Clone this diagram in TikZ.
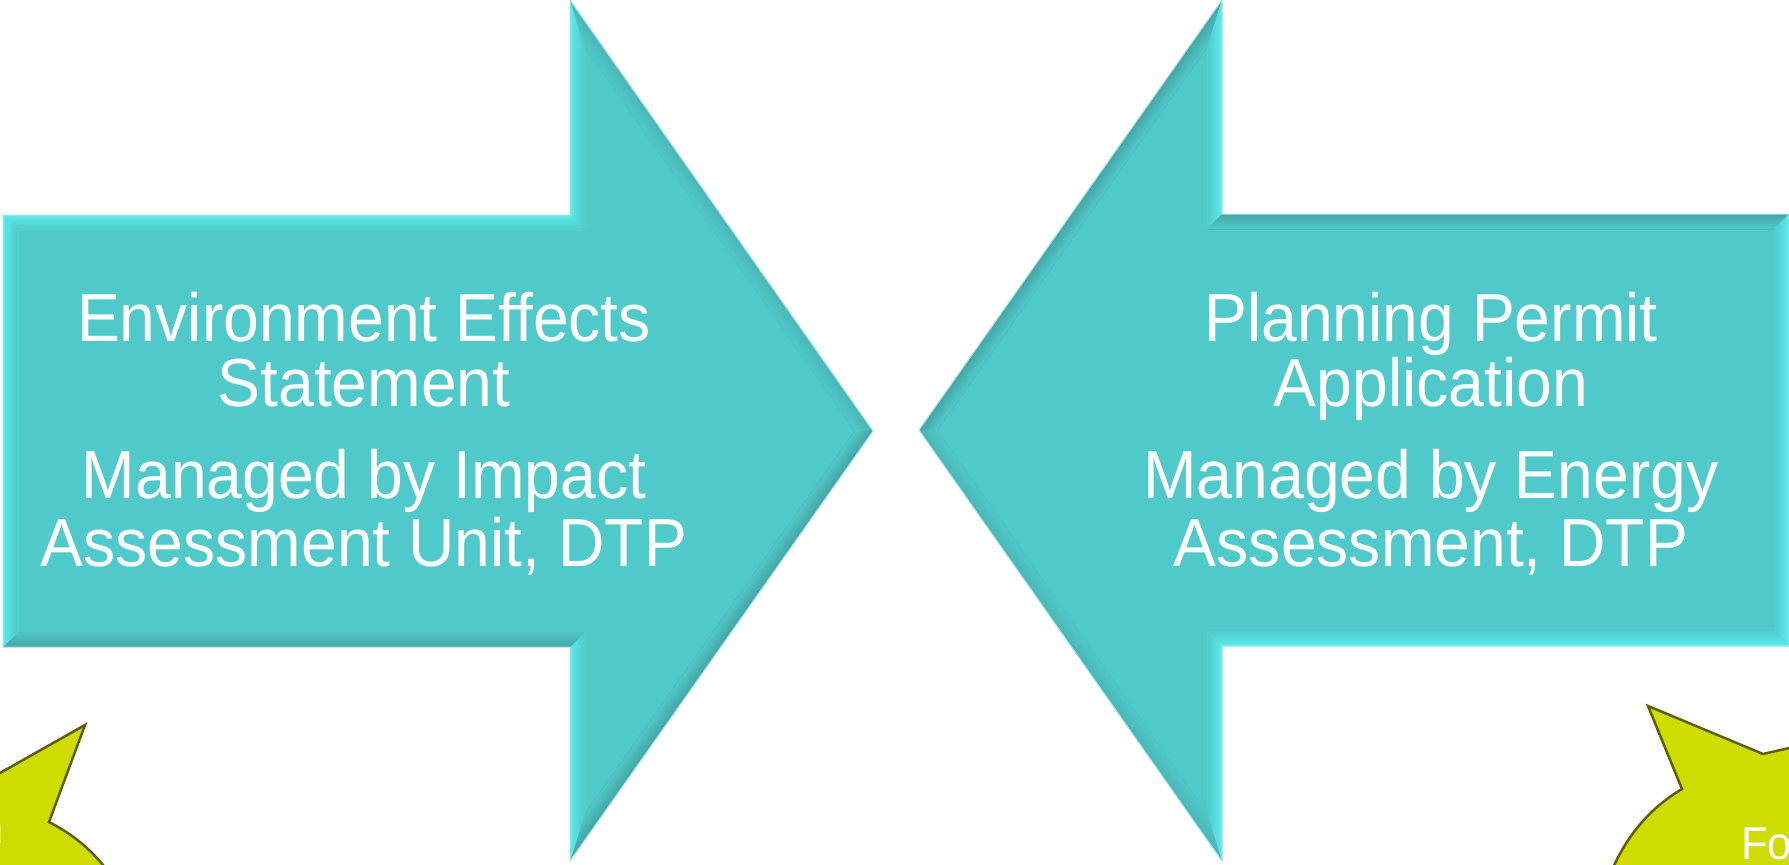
\documentclass[tikz,border=0pt]{standalone}
\usepackage{fontspec}
\setmainfont{Liberation Sans}
\newfontfamily\narrowsans[FakeStretch=0.945]{Liberation Sans}
\definecolor{tmain}{HTML}{4FC9C9}
\definecolor{tlight}{HTML}{5CEAEA}
\definecolor{tdark}{HTML}{47A6A8}
\definecolor{tmid}{HTML}{4BB6B7}
\definecolor{tedge}{HTML}{A8E4E4}
\definecolor{yfill}{HTML}{CFDC00}
\definecolor{yline}{HTML}{5E6000}
\newcommand\bevelarrow{%
  \fill[tmain] (3,215) -- (570,215) -- (570,0) -- (873,431) -- (570,861) -- (570,647) -- (3,647) -- cycle;
  \foreach \i in {0,...,6}{%
    \pgfmathsetmacro\wa{2*\i}%
    \pgfmathsetmacro\wb{15}%
    \pgfmathtruncatemacro\pc{100-100*\i/7}%
    \coordinate (a1) at ({3+\wa},{215+\wa});
    \coordinate (b1) at ({570+\wa},{215+\wa});
    \coordinate (c1) at ({570+\wa},{3.162*\wa});
    \coordinate (d1) at ({873-1.2227*\wa},431);
    \coordinate (e1) at ({570+\wa},{861-3.162*\wa});
    \coordinate (f1) at ({570+\wa},{647-\wa});
    \coordinate (g1) at ({3+\wa},{647-\wa});
    \coordinate (a2) at ({3+\wb},{215+\wb});
    \coordinate (b2) at ({570+\wb},{215+\wb});
    \coordinate (c2) at ({570+\wb},{3.162*\wb});
    \coordinate (d2) at ({873-1.2227*\wb},431);
    \coordinate (e2) at ({570+\wb},{861-3.162*\wb});
    \coordinate (f2) at ({570+\wb},{647-\wb});
    \coordinate (g2) at ({3+\wb},{647-\wb});
    \fill[tlight!\pc!tmain] (a1) -- (b1) -- (b2) -- (a2) -- cycle;
    \fill[tlight!\pc!tmain] (b1) -- (c1) -- (c2) -- (b2) -- cycle;
    \fill[tmid!\pc!tmain] (c1) -- (d1) -- (d2) -- (c2) -- cycle;
    \fill[tdark!\pc!tmain] (d1) -- (e1) -- (e2) -- (d2) -- cycle;
    \fill[tlight!\pc!tmain] (e1) -- (f1) -- (f2) -- (e2) -- cycle;
    \fill[tdark!\pc!tmain] (f1) -- (g1) -- (g2) -- (f2) -- cycle;
    \fill[tlight!\pc!tmain] (g1) -- (a1) -- (a2) -- (g2) -- cycle;
  }
  \draw[tedge, line width=1] (3,215) -- (570,215) -- (570,0) -- (873,431) -- (570,861) -- (570,647) -- (3,647) -- cycle;
}
\begin{document}
\begin{tikzpicture}[x=1pt,y=-1pt,
  arrtxt/.style={text=white, font=\narrowsans\fontsize{68}{70}\selectfont, anchor=base, inner sep=0pt},
  smalltxt/.style={text=white, font=\narrowsans\fontsize{46}{50}\selectfont, inner sep=0pt},
  burst/.style={fill=yfill, draw=yline, line width=2.5pt, line join=miter}]
\useasboundingbox (0,0) rectangle (1789,865);
\fill[white] (0,0) rectangle (1789,865);
\clip (0,0) rectangle (1789,865);

% left arrow
\begin{scope}
  \bevelarrow
\end{scope}
% right arrow (point reflection of the left one)
\begin{scope}[rotate around={180:(896,430.5)}]
  \bevelarrow
\end{scope}

% yellow bursts
\path[burst] (-20,784.3) -- (85,725) -- (49,822) .. controls (72,834) and (94,850) .. (114,880) -- (-20,880) -- cycle;
\path[burst] (1800,745.5) -- (1763,754) -- (1648,706) -- (1682,789) .. controls (1655,805) and (1626,832) .. (1608,880) -- (1800,880) -- cycle;

% texts
\node[arrtxt] (l1) at (364,341) {Environment Effects};
\node[arrtxt] (l2) at (364,406) {Statement};
\node[arrtxt] (l3) at (364,498) {Managed by Impact};
\node[arrtxt] (l4) at (364,566) {Assessment Unit, DTP};
\node[arrtxt] (r1) at (1431,341) {Planning Permit};
\node[arrtxt] (r2) at (1431,406) {Application};
\node[arrtxt] (r3) at (1431,498) {Managed by Energy};
\node[arrtxt] (r4) at (1431,566) {Assessment, DTP};

\node[smalltxt, anchor=base east] (yl) at (4,843) {n};
\node[smalltxt, anchor=base west] (yr) at (1741,859) {Fo};
\end{tikzpicture}
\end{document}
